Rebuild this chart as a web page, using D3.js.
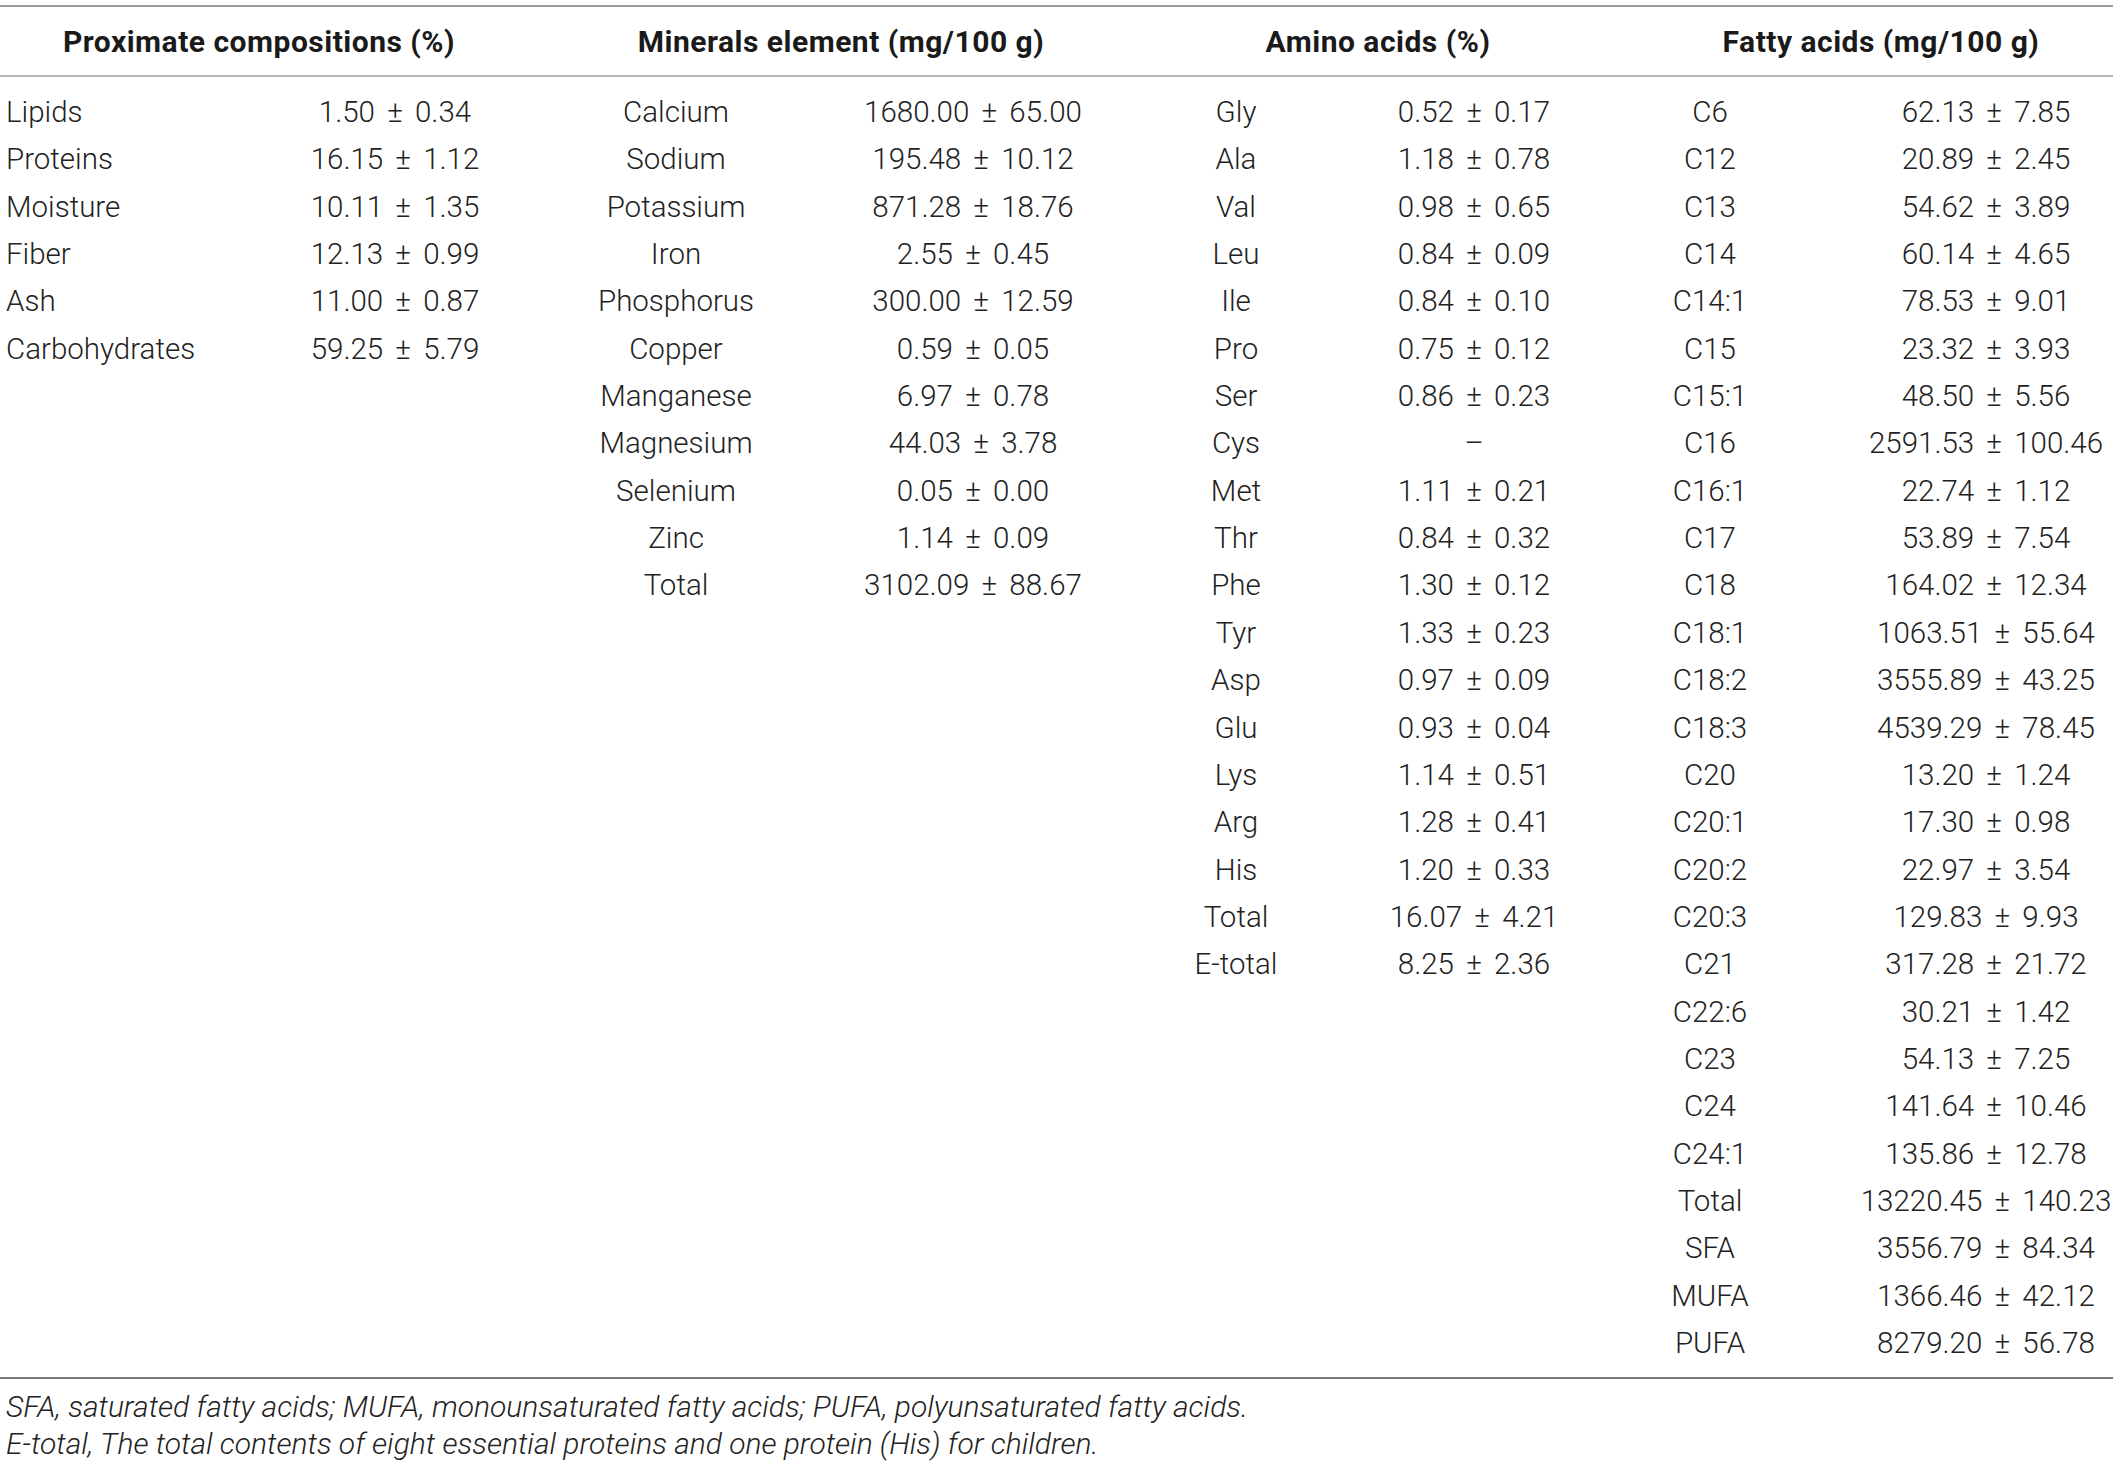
<!DOCTYPE html>
<html><head><meta charset="utf-8">
<script src="https://cdn.jsdelivr.net/npm/d3@7/dist/d3.min.js"></script>
<style>
body{margin:0;background:#fff;}
svg{display:block;}
</style></head>
<body><div id="chart"></div>
<script>
// ---- Data ----
const headers = ["Proximate compositions (%)", "Minerals element (mg/100 g)", "Amino acids (%)", "Fatty acids (mg/100 g)"];

const proximateNames = ["Lipids","Proteins","Moisture","Fiber","Ash","Carbohydrates"];
const proximateValues = ["1.50 ± 0.34","16.15 ± 1.12","10.11 ± 1.35","12.13 ± 0.99","11.00 ± 0.87","59.25 ± 5.79"];

const mineralNames = ["Calcium","Sodium","Potassium","Iron","Phosphorus","Copper","Manganese","Magnesium","Selenium","Zinc","Total"];
const mineralValues = ["1680.00 ± 65.00","195.48 ± 10.12","871.28 ± 18.76","2.55 ± 0.45","300.00 ± 12.59","0.59 ± 0.05","6.97 ± 0.78","44.03 ± 3.78","0.05 ± 0.00","1.14 ± 0.09","3102.09 ± 88.67"];

const aminoNames = ["Gly","Ala","Val","Leu","Ile","Pro","Ser","Cys","Met","Thr","Phe","Tyr","Asp","Glu","Lys","Arg","His","Total","E-total"];
const aminoValues = ["0.52 ± 0.17","1.18 ± 0.78","0.98 ± 0.65","0.84 ± 0.09","0.84 ± 0.10","0.75 ± 0.12","0.86 ± 0.23","–","1.11 ± 0.21","0.84 ± 0.32","1.30 ± 0.12","1.33 ± 0.23","0.97 ± 0.09","0.93 ± 0.04","1.14 ± 0.51","1.28 ± 0.41","1.20 ± 0.33","16.07 ± 4.21","8.25 ± 2.36"];

const fattyNames = ["C6","C12","C13","C14","C14:1","C15","C15:1","C16","C16:1","C17","C18","C18:1","C18:2","C18:3","C20","C20:1","C20:2","C20:3","C21","C22:6","C23","C24","C24:1","Total","SFA","MUFA","PUFA"];
const fattyValues = ["62.13 ± 7.85","20.89 ± 2.45","54.62 ± 3.89","60.14 ± 4.65","78.53 ± 9.01","23.32 ± 3.93","48.50 ± 5.56","2591.53 ± 100.46","22.74 ± 1.12","53.89 ± 7.54","164.02 ± 12.34","1063.51 ± 55.64","3555.89 ± 43.25","4539.29 ± 78.45","13.20 ± 1.24","17.30 ± 0.98","22.97 ± 3.54","129.83 ± 9.93","317.28 ± 21.72","30.21 ± 1.42","54.13 ± 7.25","141.64 ± 10.46","135.86 ± 12.78","13220.45 ± 140.23","3556.79 ± 84.34","1366.46 ± 42.12","8279.20 ± 56.78"];

const footnotes = [
  "SFA, saturated fatty acids; MUFA, monounsaturated fatty acids; PUFA, polyunsaturated fatty acids.",
  "E-total, The total contents of eight essential proteins and one protein (His) for children."
];

// ---- Layout ----
const W = 2118, H = 1464;
const FONT = "Roboto, 'Liberation Sans', Arial, sans-serif";
const BODY = 29.5;
const svg = d3.select("#chart").append("svg").attr("width", W).attr("height", H);

const nRows = fattyNames.length;
const y = d3.scaleLinear().domain([0, nRows - 1]).range([112, 1343]);

const groups = [
  {names: proximateNames, values: proximateValues, headX: 259, nameX: 6, nameAnchor: "start", valX: 395},
  {names: mineralNames, values: mineralValues, headX: 841, nameX: 676, nameAnchor: "middle", valX: 973},
  {names: aminoNames, values: aminoValues, headX: 1378, nameX: 1236, nameAnchor: "middle", valX: 1474},
  {names: fattyNames, values: fattyValues, headX: 1881, nameX: 1710, nameAnchor: "middle", valX: 1986}
];

// rules
svg.append("line").attr("x1",0).attr("x2",2113).attr("y1",6).attr("y2",6).attr("stroke","#9a9a9a").attr("stroke-width",2);
svg.append("line").attr("x1",0).attr("x2",2113).attr("y1",76).attr("y2",76).attr("stroke","#b4b4b4").attr("stroke-width",2);
svg.append("line").attr("x1",0).attr("x2",2113).attr("y1",1378).attr("y2",1378).attr("stroke","#7a7a7a").attr("stroke-width",2);

// headers
svg.selectAll("text.head").data(groups).join("text")
  .attr("class","head")
  .attr("x", (d) => d.headX).attr("y", 41)
  .attr("text-anchor","middle").attr("dominant-baseline","central")
  .attr("font-family", FONT).attr("font-weight", 700).attr("font-size", 30)
  .attr("letter-spacing", 0.5)
  .attr("fill","#1a1a1a")
  .text((d, i) => headers[i]);

groups.forEach(g => {
  const gg = svg.append("g");
  gg.selectAll("text.name").data(g.names).join("text")
    .attr("x", g.nameX).attr("y", (d, i) => y(i))
    .attr("text-anchor", g.nameAnchor).attr("dominant-baseline","central")
    .attr("font-family", FONT).attr("font-weight", 300).attr("font-size", BODY)
    .attr("fill","#222")
    .text(d => d);
  gg.selectAll("text.val").data(g.values).join("text")
    .attr("x", g.valX).attr("y", (d, i) => y(i))
    .attr("text-anchor", "middle").attr("dominant-baseline","central")
    .attr("font-family", FONT).attr("font-weight", 300).attr("font-size", BODY)
    .attr("word-spacing", 5)
    .attr("fill","#222")
    .text(d => d);
});

svg.selectAll("text.foot").data(footnotes).join("text")
  .attr("x", 6).attr("y", (d, i) => [1406, 1443][i])
  .attr("dominant-baseline","central")
  .attr("font-family", FONT).attr("font-weight", 300).attr("font-style","italic").attr("font-size", 30)
  .attr("fill","#222")
  .text(d => d);
</script>
</body></html>
